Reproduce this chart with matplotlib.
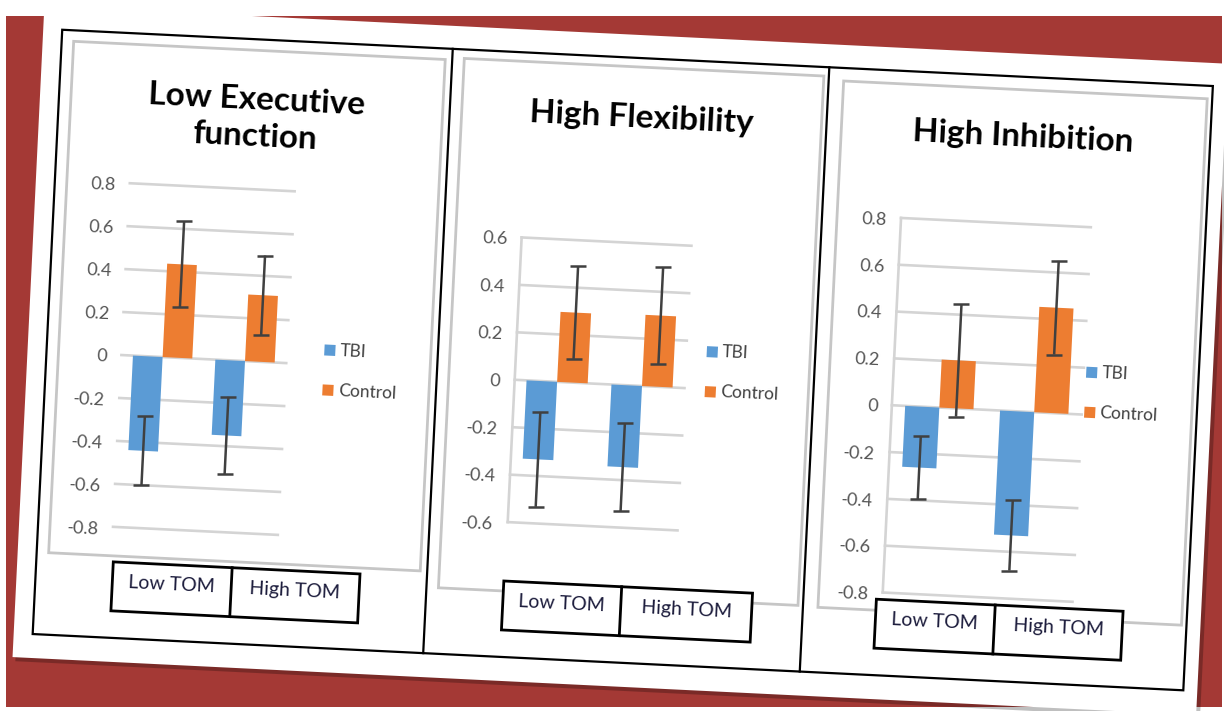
import numpy as np
import matplotlib
matplotlib.use("Agg")
import matplotlib.pyplot as plt
from matplotlib.artist import Artist
from matplotlib.lines import Line2D
from matplotlib.patches import Rectangle
from matplotlib.transforms import Affine2D

# ============================================================
# DATA
# ============================================================

panel_titles = ["Low Executive\nfunction", "High Flexibility", "High Inhibition"]
groups       = ["Low TOM", "High TOM"]
series_names = ["TBI", "Control"]

tbi_mean     = [[-0.44, -0.35], [-0.33, -0.345], [-0.26, -0.53]]
tbi_err      = [[0.16, 0.18], [0.20, 0.186], [0.135, 0.15]]
control_mean = [[0.435, 0.31], [0.295, 0.30], [0.205, 0.45]]
control_err  = [[0.20, 0.185], [0.195, 0.205], [0.24, 0.20]]

y_min  = [-0.8, -0.6, -0.8]
y_max  = [0.8, 0.6, 0.8]
y_step = 0.2

# ============================================================
# STYLE / LAYOUT  (pixels on the un-tilted card, y pointing down)
# ============================================================

W, H, DPI = 1224, 711, 100
TILT      = -2.8          # the slide in the photo is turned a little clockwise

RED    = "#a43935"
BLUE   = "#5b9bd5"
ORANGE = "#ed7d31"
GRID   = "#d4d4d4"
FRAME  = "#c6c6c6"
ERR    = "#404040"
TICK   = "#555555"
NAVY   = "#1c1c3c"
BAR_W  = 0.36

panels = [
    dict(frame=(59, 68, 431, 580),  plot=(122, 207, 287, 551), title_y=136,
         legend=(330, 364), box=(124, 243, 371),  axis_line=False),
    dict(frame=(450, 66, 810, 596), plot=(516, 242, 686, 527), title_y=117,
         legend=(712, 347), box=(515, 633, 764),  axis_line=True),
    dict(frame=(830, 70, 1194, 597), plot=(894, 204, 1084, 579), title_y=117,
         legend=(1092, 349), box=(888, 1007, 1135), axis_line=True),
]
BOX_TOP, BOX_BOT, LEG_GAP = 586, 635, 40

plt.rcParams["font.family"] = ["Lato", "DejaVu Sans"]

fig = plt.figure(figsize=(W / DPI, H / DPI), dpi=DPI)
fig.patch.set_facecolor("white")

flip = Affine2D().scale(1, -1).translate(0, H)           # y-down pixels -> display
rot  = Affine2D().rotate_deg_around(W / 2, H - 355, TILT)
card = flip + rot


def rect(x0, y0, x1, y1, tr, **kw):
    p = Rectangle((x0, y0), x1 - x0, y1 - y0, transform=tr, **kw)
    fig.add_artist(p)
    return p


def line(xs, ys, **kw):
    fig.add_artist(Line2D(xs, ys, transform=card, **kw))


def label(x, y, s, **kw):
    fig.text(x, y, s, transform=card, rotation=TILT, rotation_mode="anchor", **kw)


def tilt(artist):
    artist.set_transform(Artist.get_transform(artist) + rot)
    artist.set_clip_on(False)


# background, card and the table frame
rect(6, 16, 1222, 707, flip, facecolor=RED, edgecolor="none", zorder=0)
rect(31, 38, 1217, 690, card, facecolor="black", alpha=0.25, edgecolor="none", zorder=1)
rect(28, 34, 1213, 686, card, facecolor="white", edgecolor="none", zorder=2)
rect(47, 57, 1199, 662, card, fill=False, edgecolor="black", lw=1.6, zorder=3)
for xd in (438, 815):
    line([xd, xd], [57, 662], color="black", lw=1.6, zorder=3)

# ============================================================
# PANELS
# ============================================================

x = np.arange(len(groups))
for k, p in enumerate(panels):
    fx0, fy0, fx1, fy1 = p["frame"]
    rect(fx0, fy0, fx1, fy1, card, fill=False, edgecolor=FRAME, lw=2, zorder=3)

    x0, y0, x1, y1 = p["plot"]
    ax = fig.add_axes([x0 / W, 1 - y1 / H, (x1 - x0) / W, (y1 - y0) / H])
    ax.set_zorder(5)
    ax.patch.set_visible(False)
    for s in ax.spines.values():
        s.set_visible(False)

    ax.bar(x - BAR_W / 2, tbi_mean[k], BAR_W, color=BLUE, zorder=2)
    ax.bar(x + BAR_W / 2, control_mean[k], BAR_W, color=ORANGE, zorder=2)
    ax.errorbar(x - BAR_W / 2, tbi_mean[k], yerr=tbi_err[k], fmt="none",
                ecolor=ERR, elinewidth=1.8, capsize=6, capthick=1.8, zorder=3)
    ax.errorbar(x + BAR_W / 2, control_mean[k], yerr=control_err[k], fmt="none",
                ecolor=ERR, elinewidth=1.8, capsize=6, capthick=1.8, zorder=3)

    ax.set_xlim(-0.5, len(groups) - 0.5)
    ax.set_ylim(y_min[k], y_max[k])
    ticks = np.round(np.arange(y_min[k], y_max[k] + 1e-9, y_step), 1)
    ax.set_yticks(ticks, [f"{t + 0.0:g}" for t in ticks])
    ax.set_xticks([])
    ax.grid(axis="y", color=GRID, lw=1.9)
    ax.set_axisbelow(True)
    ax.tick_params(axis="y", length=0, pad=10, labelsize=13,
                   labelcolor=TICK, labelrotation=TILT)
    if p["axis_line"]:
        ax.axvline(-0.5, color=GRID, lw=1.9)

    # title
    label((fx0 + fx1) / 2, p["title_y"], panel_titles[k], ha="center", va="center",
          fontsize=24, fontweight="bold", linespacing=1.35, color="black", zorder=6)

    # legend
    lx, ly = p["legend"]
    for j, (name, col) in enumerate(zip(series_names, [BLUE, ORANGE])):
        yy = ly + j * LEG_GAP
        rect(lx - 5.5, yy - 5.5, lx + 5.5, yy + 5.5, card, facecolor=col,
             edgecolor="none", zorder=6)
        label(lx + 10, yy, name, ha="left", va="center", fontsize=12.5,
              color=ERR, zorder=6)

    # category boxes under the chart
    b0, bd, b1 = p["box"]
    rect(b0, BOX_TOP, b1, BOX_BOT, card, facecolor="white", edgecolor="black",
         lw=2, zorder=6)
    line([bd, bd], [BOX_TOP, BOX_BOT], color="black", lw=2, zorder=7)
    for g, (c0, c1) in zip(groups, [(b0, bd), (bd, b1)]):
        label((c0 + c1) / 2, 606, g, ha="center", va="center", fontsize=14,
              color=NAVY, zorder=7)

# ============================================================
# TILT THE CHART CONTENT WITH THE CARD
# ============================================================

fig.canvas.draw()
for ax in fig.axes:
    for art in [*ax.patches, *ax.lines, *ax.collections]:
        tilt(art)
    for tick in ax.yaxis.get_major_ticks():
        tilt(tick.gridline)
        tilt(tick.label1)

fig.savefig("out.png", dpi=DPI, facecolor="white")
